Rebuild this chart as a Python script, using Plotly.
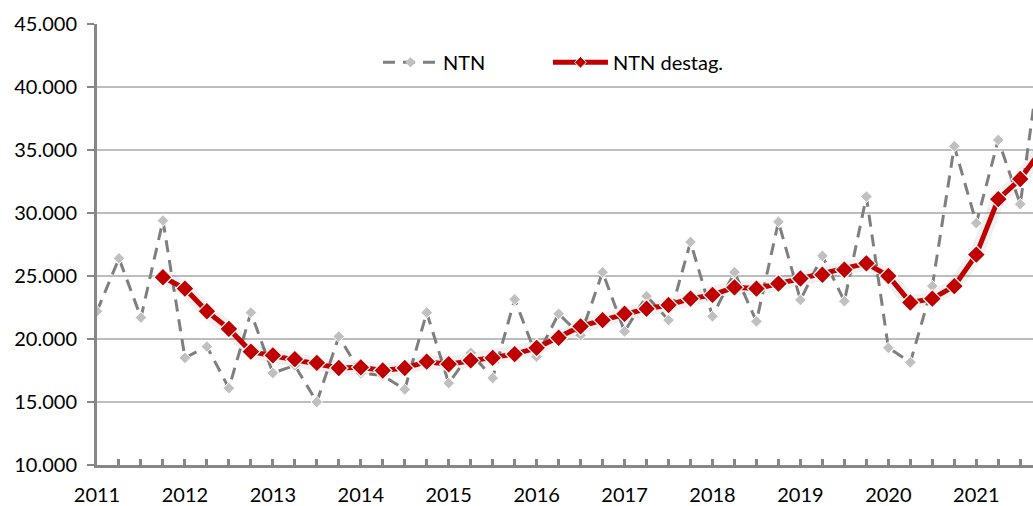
import plotly.graph_objects as go

years = [str(y) for y in range(2011, 2022)]
quarters = ["T1", "T2", "T3", "T4"]
periods = [f"{y} {q}" for y in years for q in quarters]

ntn = [22200, 26400, 21700, 29400,
       18500, 19400, 16100, 22100,
       17300, 17900, 15000, 20200,
       17300, 17100, 16000, 22100,
       16500, 18900, 16900, 23150,
       18600, 22000, 20300, 25300,
       20600, 23400, 21500, 27700,
       21800, 25300, 21400, 29300,
       23100, 26600, 23000, 31300,
       19300, 18150, 24200, 35300,
       29200, 35800, 30700, 43400]

ntn_destag = [None, None, None, 24900,
              24000, 22200, 20800, 19000,
              18700, 18400, 18100, 17700,
              17750, 17500, 17700, 18200,
              18000, 18300, 18500, 18800,
              19300, 20100, 21000, 21500,
              22000, 22400, 22700, 23200,
              23500, 24100, 24000, 24400,
              24800, 25100, 25500, 26000,
              25000, 22900, 23200, 24200,
              26700, 31100, 32700, 35100]

y_ticks = [10000, 15000, 20000, 25000, 30000, 35000, 40000, 45000]
y_ticktext = ["10.000", "15.000", "20.000", "25.000", "30.000", "35.000", "40.000", "45.000"]

x_idx = list(range(len(periods)))
x_ticktext = [p.split(" ")[0] if p.endswith("T1") else "" for p in periods]

FONT = "Lato"
AXIS_GRAY = "#878787"
NTN_LINE = dict(color="#7f7f7f", width=3, dash="12px,8px")
RED = "#c00000"

fig = go.Figure()

# data traces
fig.add_trace(go.Scatter(
    x=x_idx, y=ntn, name="NTN", mode="lines+markers", showlegend=False,
    line=NTN_LINE,
    marker=dict(symbol="diamond", size=9, color="#c0c0c0",
                line=dict(color="white", width=1)),
))
fig.add_trace(go.Scatter(
    x=x_idx, y=ntn_destag, name="NTN destag.", mode="lines", showlegend=False,
    line=dict(color="rgba(0,0,0,0.06)", width=14), hoverinfo="skip",
))
fig.add_trace(go.Scatter(
    x=x_idx, y=ntn_destag, name="NTN destag.", mode="lines+markers", showlegend=False,
    line=dict(color=RED, width=5),
    marker=dict(symbol="diamond", size=14, color=RED,
                line=dict(color="white", width=1.2)),
))

# legend entries (no data)
fig.add_trace(go.Scatter(
    x=[None], y=[None], name="NTN", mode="lines+markers", legend="legend",
    line=NTN_LINE,
    marker=dict(symbol="diamond", size=8, color="#c0c0c0"),
))
fig.add_trace(go.Scatter(
    x=[None], y=[None], name="NTN destag.", mode="lines+markers", legend="legend2",
    line=dict(color=RED, width=5),
    marker=dict(symbol="diamond", size=9, color=RED,
                line=dict(color="white", width=1)),
))

fig.add_shape(type="rect", xref="paper", yref="paper",
              x0=0.2254, x1=0.7382, y0=0.845, y1=0.982,
              fillcolor="white", line=dict(width=0), layer="between")

legend_common = dict(orientation="h", y=0.913, yanchor="middle", xanchor="left",
                     bgcolor="rgba(0,0,0,0)", font=dict(size=20, family=FONT),
                     itemwidth=55)

fig.update_layout(
    width=1033, height=506,
    margin=dict(l=97, r=0, t=24, b=34),
    paper_bgcolor="white", plot_bgcolor="white",
    font=dict(family=FONT, size=20, color="#000000"),
    showlegend=True,
    legend=dict(x=0.3002, **legend_common),
    legend2=dict(x=0.4818, **legend_common),
    xaxis=dict(
        range=[0, 42.58], tickmode="array", tickvals=x_idx, ticktext=x_ticktext,
        ticks="inside", ticklen=6, tickwidth=3, tickcolor=AXIS_GRAY,
        showline=True, linecolor=AXIS_GRAY, linewidth=3,
        showgrid=False, zeroline=False, tickangle=0,
        ticklabelstandoff=10,
    ),
    yaxis=dict(
        range=[10000, 45000], tickmode="array", tickvals=y_ticks, ticktext=y_ticktext,
        ticks="outside", ticklen=7, tickwidth=2, tickcolor=AXIS_GRAY,
        showline=True, linecolor=AXIS_GRAY, linewidth=3,
        showgrid=True, gridcolor="#bdbdbd", gridwidth=1.5, zeroline=False,
        ticklabelstandoff=6,
    ),
)

fig.write_html("out.html", config={"displayModeBar": False},
               post_script="document.body.style.margin='0';document.body.style.padding='0';")
